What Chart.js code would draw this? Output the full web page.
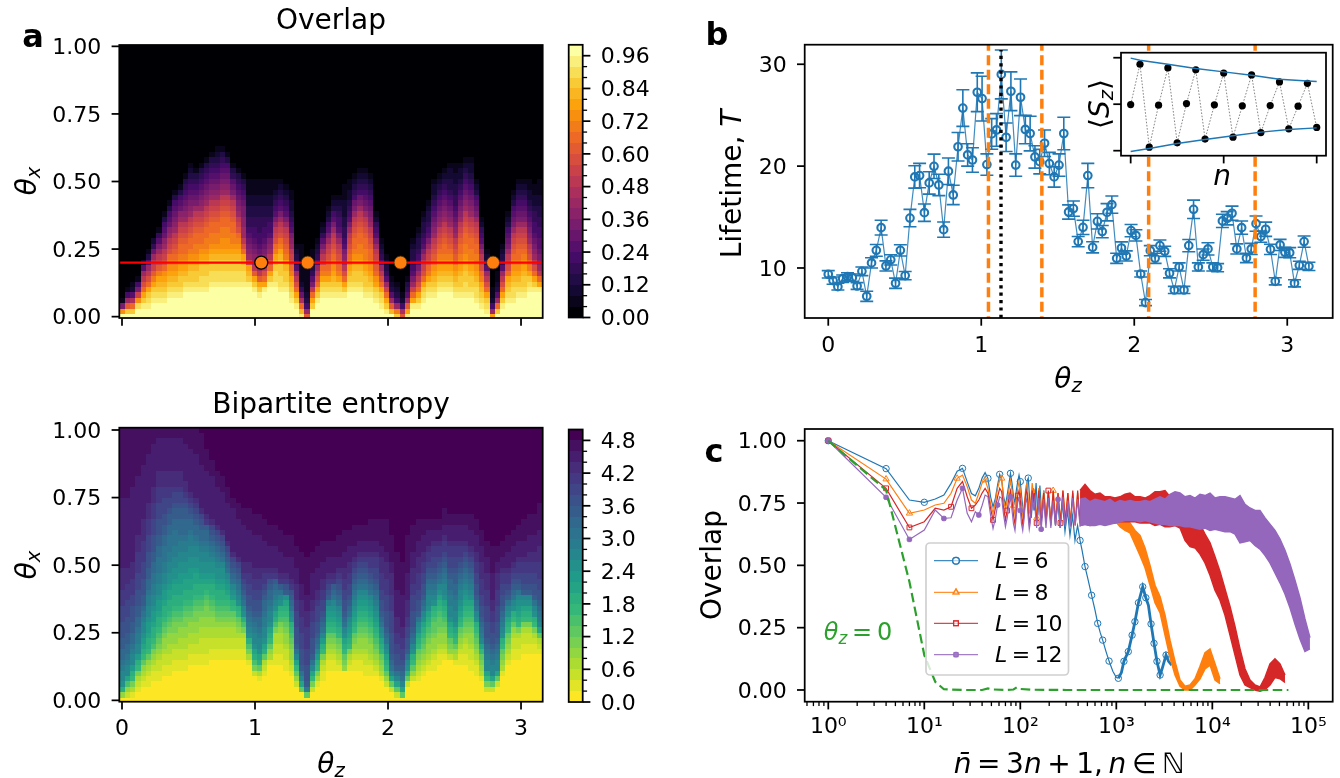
<!DOCTYPE html>
<html><head><meta charset="utf-8">
<script src="https://cdn.jsdelivr.net/npm/chart.js@4"></script>
<style>html,body{margin:0;padding:0;background:#fff;width:1340px;height:778px;overflow:hidden}canvas{position:absolute;left:0;top:0}</style>
</head><body>
<script>
// ---------- DATA ----------
// heat maps: one run-coded string per theta_z column, bottom row first; letters a..y are contour levels 0..24
const overlapColumns=["ysib","yvpkfb","yvqlgcb","y2wsnifb","y2xvtqomkgc","y2xwvtqomkgdb","y3xwvtrpnmkhec","y3xwvutrpnmkigeb","y3xwvutsqonmkjhgfdb","y4xwvutsrqonmkjhgfdb","y4xwvutsrqponmkjihgfdb","y4xwvvutsrqqponmkjhgfdb","y5xwvutsrqqponmkjihgfedb","y5xwvvutsrqqponmkjihgfedcb","y5xwvvutsrrqqponmkihgfedb","y5xwwvvutsrqqponmkjihgfedb","y5xwwvvutsrrqqponmkjihgfedb","y6xwwvvutsrrqqponmkjihgfedb","y6xwwvvutsrrqqponmkjihgfedcb","y6xwwvvutssrrqqponmkjihgfedb","y6xwwvvutssrrqqponmkjihgfdb","y6xwwvvutsrrqqponmkihgedb","y6xwwvvutsrqonmkjihgfedb","y6xwwvutqomkkjjiihgfedb","y6xvutnkjihgfeeddccb3","y5xvtpmkjihgffeeddccb3","y4xvtpmkjihgffe3ddccb3","y5xtqomkjihgffeeddccb3","y6xvtqomkjigffeddccb3","y6xwwvutrqonmkigfedcbb","y5xwwv3utrqonmkigfedcb","y5xwvvutrqponmkigfedcb","y3xwvutrqonmkjigfedccbb","y2xvtqomkgedcb","xuqlhecb7","pkfdcb6","y2vtqmigedcbb","y3xvtqomkgedcb","y4xwvtrqnmkigecb","y4xwvtrqponmkigfdcb","y4xwvutsrqponmkigfdcb","y4xwvtrqponmkigffedcb","y4xvtqomkjigfeeddc3b3","y5xwvutrqponmkigfedccbb","y5xwvvutsrqqponmkihfedcb","y5xwvvutsrrqqponmkihfedcb","y4xwvvutsrrqqponmkihgfedcb","y4xwvutsrqqponmkjihgfedcb","y3xwvtsqponmkigfecb","y2xwvtqomkgedcb","yxvtqnkgedcb","yupkgdcb","vrkfdcb","plfcb","xtpkgedb","y2xtqnkigfeddcb","y2xvtqomkigfeddcb","y3xwvtqonmkigfeddcb","y4xwvtrqonmkigfeddcb","y4xwvutsqponmkjihgfedccb","y5xwvutsrqponmkjihgfedcb","y5xwvutsrqqponmkjihgfedcb","y5xwvutsrqponmkjihgfeddccb","y4xwvutsqponmkjihgfeeddccbb","y4xwvvutsrqqponmkjihgfedccb","y4xwwvvutsrrqqponmkjihgfedcb","y4xwvvutsrrqqponmkjihgfedccb","y3xwwvutsrrqqponmkihgfdcb","y2xwvutrqonmkigfecb","yxwvtqomkgecb","tkfcbb","yvqkgdcbb","y2xvtqomkgedcb","y3xwvutqonmkihgfdcb","y3xwwvutsrqponmkihgfdcb","y4xwvutsrqqponmkihgfedcb","y4xwvvutsrqponmkihgfedcb","y5xwvtrqonmkjihgfedccbb","y5xvtqomkjihgffeedccbb","y5xtqmkjihggffeeddccb3"];
const entropyColumns=["aejmnnopqqrrssstttuuuvvvvw13x13","acehknnopqqrrssstttuuuvvvw13x13","abdfijlnnopqqrrsssttuuuvvvw14x11","a2bcdfijlnnoopqqrrssstttuuuuvvvw11x9","a3bcdegijklmnnopqrrssstttuuuuvvvvw10x7","a3bbcdegijjkllmnnoopqqrrssstttuuuvvvw9x5","a4bbcdefhijjkllmnnooppqqrrssstttuuuvvvw8x3","a4bbccdefghijjkllmnnoopppqqrrssstttuuuvvvw6x2","a5bbccdeefghijjkllmnnoopppqqrrsstttuuvvvw6x2","a5bbccddeefghijjkklmmnnoopppqqrrsttuuvvvw6x2","a6bbccdeeffghijjkklmmnnoopppqqrrsttuvvvw6x2","a6bbccddeefghijjkkllmmnnoopqqqrrsttuvvvw6x2","a6bbccddeeffghijjkklmmnnoopqqqrrstuvvw7x3","a7bbccddeefghijjkkllmmnnoopqqrstuvw8x4","a7bbccddeeffghijjkklmmnnopqqrstuvw8x5","a7bbcccddeefghijjklmmnnopqqrstvw8x6","a7bbcccddeeffghijklmmnnopqqruvw8x4","a8bbccddeefghijjklmmnopqrstvw8x3","a8bbccddefghijjklmmnopqrstvw7x3","a8bbccddefghijjklmmnpqrstvw7x3","a8bbccddefghijklmnpqrstvw7x3","a8bbccddefgijlmnpqrstvw8x2","a8bbccdefgijmnopqrstvw7x3","a8bbccdfhjmnpqrstuvvw7x3","a7bdfhjmnopqrssttuuvvw6x4","a5cfhjkmnnopqrssttuuvvw6x4","a4bdgjkmnnopqqrssttuuvvw6x4","a5bcdgjkmnnoopqqrstuuvw5x4","a7bdegijkmnnopqqrsuvw4x4","a7bbccddfhjkmnopqruvw4x4","a7bbccddefhijmnpruvw4x4","a6bbccdeefghijkmrsuvw3x4","a5bcdeefghijmnpqrsuvw4x4","a3cegiknprssstttuuvvvw3x4","a2gknprssstttuuuvvvw3x6","agorssstttuuuuvvvw3x7","a2cfiknprssstttuuvvw5x4","a3bdfijlnpqrsstttuvvw4x4","a4bbcdfijlnpqrsttuuvvw3x4","a6bbcdefgijklmorstuvw3x3","a6bbcdefgijklmnpqruvw3x3","a6bcdefgijklmnpqrstuvw2x4","a6efgijkmnpqrssttuuvvw3x4","a6bcdfijklmnpqrsttuuvvw3x3","a6bbcdefgijklmnopqrstuvw2x4","a6bbcdeefghijklmnpqrstuvw2x3","a5bbccdeefghijklmnpqrstuvw2x3","a5bbcdeefghijklmnpqrstuuvw2x4","a5bcdefghijklmnopqrsttuuvw2x4","a4bdefgijkmnpqrssttuuuvvvw2x5","a3cegijkmnpqrssstttuuuvvvw2x6","a2cgknpqrssssttttuuuvvvvw2x5","acgknprssttuuvvvw5x7","agknpqrsttuuvvw6x6","a3cgjmnprssttuuvvvw5x7","a4cegijmnpqrssstttuuvvvw3x5","a4bcdefgijkmnprssttuuuvvvw3x4","a5bcdefghijkmnpqrssttuuvvw3x3","a6bcdeefghijkmnnopqrstuuvw3x2","a6bbcdeefgghijmnopqrsttuuvw2x2","a7bbcdeefgghijkmnpqrstuuvw2x2","a8bcdeefghijkmnnopqrstuuvw2x3","a8cefgijkmnnoopqqrsttuuvw3x2","a7bdegijkmnnoopqqrrsttuuvw3x2","a7bbcdefgijklmnnopqrstuuvw3x2","a7bbccdefghijklmnopqrstuvw3x2","a6bbccdeefghijkmnopqrstuvw3x3","a5bbcdefghijmnpqrssttuuvvw3x3","a4bdefgiknopqrssttuuuvvvw3x3","a2cfiknnopqrssstttuuuvvvw3x3","a2cgknnopqrssttuuvvw5x5","a3cgknnopqrssstttuuuvvvw2x3","a5bdefgijmnopqrssttuuvw2x3","a7bcdefgijkmnprstuuvw3x3","a8bbccdegijmnpqrstuvw3x3","a8bbccdfijklmnprstuuvw3x3","a9bbccdfijkmnrsttuuvw3x4","a9bbccdfijkmnrsttuuvvw3x4","a9bbcdfijmnprssttuuvvw3x4","a9bcdgknopqrssttuuuvvvw3x5"];
const markerThetaZ=[1.047,1.396,2.094,2.79];
const lineThetaX=[0.2,0.2];

// panel b
const lifetime=[9.38,8.76,8.17,8.95,9.15,9.05,8.23,9.67,7.22,10.5,11.73,13.96,10.2,10.8,8.5,11.73,9.25,14.9,18.94,19.07,15.43,18.35,19.98,18.15,13.76,19.5,17.17,21.9,25.7,21.1,20.6,27.25,26.63,20.15,23.16,23.55,29.0,22.83,27.35,20.1,26.76,23.6,23.2,20.9,20.44,22.24,20.25,18.94,20.1,23.2,15.5,15.83,12.59,13.99,19.07,12.03,14.58,13.57,15.47,16.22,10.95,11.96,11.18,13.67,13.2,9.41,6.6,11.7,10.95,12.2,11.64,9.48,7.84,10.1,7.84,12.2,15.76,10.1,11.31,11.87,10.1,10.03,14.62,14.88,15.37,11.87,13.96,10.98,11.87,14.35,13.08,13.8,11.83,8.69,12.26,11.54,11.5,8.5,10.26,12.59,10.16];
const lifetimeErr=[.36,.35,.33,.36,.38,.36,.33,.42,.5,.5,.58,.72,.5,.5,.5,.55,.4,.85,1.1,1.2,.85,1.1,1.2,1.05,.75,1.3,.95,1.4,1.8,1.1,1.2,1.9,2.2,1.05,1.5,1.6,2.4,1.4,1.9,1.1,1.8,1.4,1.7,1.1,1.2,1.3,1.1,1,1.1,1.6,.7,.75,.5,.7,1.2,.55,.75,.6,.85,.85,.5,.6,.5,.6,.55,.3,.3,.5,.5,.55,.5,.45,.35,.4,.35,.6,.9,.4,.55,.6,.4,.4,.65,.65,.7,.5,.65,.45,.55,.75,.55,.7,.5,.35,.55,.5,.5,.35,.4,.55,.4];
const dashedThetaZ=[1.047,1.396,2.094,2.79];
const dottedThetaZ=1.129;
// inset
const szValues=[-.007,.86,-.925,-.02,.78,-.83,.014,.74,-.75,-.014,.67,-.71,-.036,.63,-.61,-.03,.48,-.53,-.043,.45,-.5];
const envUpperN=[0,1,4,7,10,13,16,19,20], envUpper=[.99,.946,.86,.767,.695,.624,.538,.5,.487];
const envLowerN=[0,2,5,8,11,14,17,20], envLower=[-1.018,-.953,-.846,-.76,-.68,-.6,-.545,-.51];

// panel c
const nbarEarly=[1,4,7,10,13,16,19,22,25,28,31,34,37,40,43,46,49,52,55,58,61,64,67,70,73,76,79,82,85,88,91,94,97,100,103,106,109,112,115,118,121,124,127,130,133,136];
const L6early=[1,.888,.762,.753,.766,.782,.829,.878,.889,.835,.788,.779,.809,.85,.872,.849,.776,.735,.769,.822,.865,.842,.776,.742,.782,.825,.869,.829,.776,.749,.802,.836,.862,.836,.78,.735,.70,.745,.80,.84,.85,.79,.73,.69,.74,.81];
const L8early=[1,.846,.709,.722,.742,.749,.789,.849,.862,.816,.762,.749,.789,.83,.842,.809,.749,.709,.755,.809,.842,.849,.762,.722,.76,.80,.84,.80,.74,.70,.76,.81,.835,.80,.75,.70,.73,.78,.82,.83,.76,.71,.72,.78,.83,.79];
const L10early=[1,.809,.652,.675,.729,.722,.735,.809,.836,.775,.729,.742,.762,.79,.809,.789,.729,.682,.729,.775,.809,.795,.729,.682,.72,.77,.80,.76,.70,.665,.72,.78,.80,.76,.70,.665,.70,.76,.80,.79,.72,.67,.69,.76,.80,.75];
const L12early=[1,.773,.604,.642,.722,.688,.691,.762,.809,.709,.675,.715,.702,.74,.782,.775,.702,.648,.688,.742,.775,.769,.702,.655,.69,.74,.775,.72,.665,.64,.70,.755,.77,.72,.665,.64,.68,.735,.77,.75,.69,.645,.67,.74,.77,.72];
const zigX=[140,148,156,165,175,185,196,208,220,233,247,262,278,295,313,332,352,373,396,419];
const L8zig=[.80,.69,.81,.68,.80,.70,.79,.68,.80,.69,.79,.68,.80,.69,.79,.68,.79,.67,.79,.67];
const L10zig=[.79,.67,.80,.66,.79,.67,.80,.66,.80,.66,.79,.67,.80,.67,.79,.66,.80,.66,.80,.67];
const L12zig=[.76,.65,.77,.645,.765,.65,.77,.65,.76,.66,.765,.65,.775,.655,.76,.655,.77,.66,.765,.655];
const L6tailX=[140,146,152,160,168,176,186,196,208,220,232,246,259,275,292,310,329,350,371,395,419,440,472,510,553,600,640,680,721,780,840,920,1000,1050,1130,1200,1333,1460,1563,1700,1884,2030,2160,2300,2471,2650,2858,3000,3296,3500,3776];
const L6tailY=[.72,.83,.70,.82,.69,.80,.68,.79,.67,.77,.66,.76,.65,.75,.635,.72,.62,.70,.60,.66,.60,.56,.495,.44,.38,.32,.267,.23,.20,.155,.116,.075,.05,.047,.07,.115,.154,.22,.274,.35,.414,.37,.34,.265,.187,.115,.06,.085,.14,.115,.10];
const L6marks=[1,4,10,25,46,61,79,100,121,419,472,553,640,721,840,1050,1200,1333,1460,1563,1700,1884,2030,2300,2471,2650,2858,3296];
const L8marks=[1,4,7,22,43,64,85,148,220];
const L10marks=[1,4,7,19,31,52,73,94,148,196,262];
const L12marks=[1,4,7,16,25,37,58,79,100,165,247];
const bandX=[419,472,532,600,676,762,859,968,1092,1232,1389,1566,1766,1991,2245,2530,2853,3216,3626,4088,4608,5195,5857,6603,7444,8392,9461,10665,12023,13555,15281,17227,19420,21893,24681,27824,31367,35360,39863,44939,50662,57112,64384,72583,81826,92247,103995];
const L8upper=[.79,.79,.785,.78,.775,.77,.75,.73,.69,.685,.67,.64,.62,.57,.50,.42,.375,.30,.20,.115,.04,.015,.02,.045,.095,.15,.165,.105,.045];
const L8lower=[.665,.67,.67,.675,.68,.685,.69,.68,.655,.64,.63,.585,.54,.49,.42,.35,.31,.22,.13,.06,.015,0,0,.02,.045,.085,.10,.04,.025];
const L10upper=[.80,.825,.80,.785,.79,.775,.775,.77,.775,.785,.79,.775,.775,.77,.78,.795,.795,.80,.775,.77,.75,.685,.675,.675,.665,.625,.59,.535,.475,.405,.335,.255,.165,.085,.04,.02,.012,.05,.105,.125,.105,.06];
const L10lower=[.66,.665,.66,.665,.67,.665,.67,.67,.675,.675,.675,.675,.67,.67,.67,.66,.665,.655,.655,.66,.65,.6,.575,.57,.545,.51,.46,.40,.36,.30,.22,.14,.06,.02,.01,0,-.005,.002,.02,.05,.045,.03];
const L12upper=[.765,.77,.755,.765,.76,.755,.765,.75,.76,.755,.76,.755,.755,.76,.755,.765,.775,.765,.785,.795,.79,.775,.78,.77,.785,.78,.79,.77,.775,.775,.77,.765,.78,.745,.73,.72,.72,.69,.665,.64,.605,.56,.505,.44,.37,.285,.21];
const L12lower=[.66,.665,.66,.66,.665,.66,.665,.67,.675,.68,.68,.68,.675,.68,.675,.67,.665,.665,.66,.66,.66,.655,.655,.65,.645,.65,.64,.645,.64,.635,.635,.625,.59,.595,.60,.58,.565,.54,.51,.47,.43,.385,.33,.265,.205,.155,.165];
const theta0X=[1,4,7,10,13,16,25,40,46,52,70,85,92,100,130,300,1000,5000,20000,62000];
const theta0Y=[1,.802,.434,.14,.033,.003,0,0,.006,.002,0,.002,.011,.004,.001,0,0,0,0,0];

// tick labels
const thetaXTicks=[0,.25,.5,.75,1], thetaXLabels=["0.00","0.25","0.50","0.75","1.00"];
const thetaZTicks=[0,1,2,3], thetaZLabels=["0","1","2","3"];
const cbarATicks=[0,.12,.24,.36,.48,.6,.72,.84,.96], cbarALabels=["0.00","0.12","0.24","0.36","0.48","0.60","0.72","0.84","0.96"];
const cbarBTicks=[0,.6,1.2,1.8,2.4,3,3.6,4.2,4.8], cbarBLabels=["0.0","0.6","1.2","1.8","2.4","3.0","3.6","4.2","4.8"];
const lifeTicks=[10,20,30], lifeLabels=["10","20","30"];
const logTicks=[1,10,100,1000,10000,100000], logLabels=["10⁰","10¹","10²","10³","10⁴","10⁵"];
const overlapTicks=[0,.25,.5,.75,1], overlapLabels=["0.00","0.25","0.50","0.75","1.00"];

// ---------- HELPERS ----------
const FF='"DejaVu Sans"';
Chart.defaults.font.family=FF;
const W=1340,H=778,SPINE=1.75,MAJ=7.7,MIN=4.4,LAB=28,TH='\u2009';
const BLUE='#1f77b4',ORANGE='#ff7f0e',GREEN='#2ca02c',RED='#d62728',PURPLE='#9467bd';
const inferno=["#000004","#1b0c41","#4a0c6b","#781c6d","#a52c60","#cf4446","#ed6925","#fb9b06","#f7d13d","#fcffa4"];
const viridis=["#440154","#482878","#3e4989","#31688e","#26828e","#1f9e89","#35b779","#6ece58","#b5de2b","#fde725"];
function cmap(list,t){const p=t*(list.length-1),i=Math.min(Math.floor(p),list.length-2),f=p-i;
  const h=s=>[1,3,5].map(k=>parseInt(s.substr(k,2),16));const a=h(list[i]),b=h(list[i+1]);
  return `rgb(${a.map((v,k)=>Math.round(v+(b[k]-v)*f)).join(',')})`;}
const infernoLevel=k=>cmap(inferno,k/24), viridisLevel=k=>cmap(viridis,1-k/24);
function decode(s,fillCh){const o=s.replace(/([a-y])(\d+)/g,(m,c,n)=>c.repeat(+n));return o.padEnd(51,fillCh);}
function cells(cols,fillCh){const out=[];cols.forEach((s,c)=>{const d=decode(s,fillCh);
  for(let r=0;r<51;r++)out.push({x:c*Math.PI/79,y:r*0.02,level:d.charCodeAt(r)-97});});return out;}
function rich(ctx,runs,x,y,size,opt={}){ctx.save();ctx.fillStyle=opt.color||'#000';ctx.textBaseline='alphabetic';ctx.textAlign='left';
  const fnt=r=>`${r.b?'bold ':''}${r.i?'italic ':''}${r.s?size*.7:size}px ${FF}`;
  let w=0;runs.forEach(r=>{ctx.font=fnt(r);w+=ctx.measureText(r.t).width;});
  ctx.translate(x,y);if(opt.rot)ctx.rotate(opt.rot);
  let cx=opt.left?0:-w/2;runs.forEach(r=>{ctx.font=fnt(r);ctx.fillText(r.t,cx,r.s?size*.15:0);cx+=ctx.measureText(r.t).width;});ctx.restore();}
const T=(t,i,s,b)=>({t,i,s,b});
function axis(pos,min,max,vals,labels,pad,log){const horiz=pos==='bottom'||pos==='top';
  return {type:log?'logarithmic':'linear',position:pos,min,max,offset:false,grid:{display:false,drawTicks:false},border:{display:false},
    ticks:{display:!!labels,autoSkip:false,maxRotation:0,minRotation:0,padding:pad||0,labelOffset:horiz?0:2,color:'#000',font:{size:22,family:FF},callback:(v,i)=>labels?labels[i]:''},
    afterBuildTicks:s=>{s.ticks=vals.map(v=>({value:v}));},
    afterFit:s=>{if(horiz)s.height=0;else s.width=0;s.paddingLeft=s.paddingRight=s.paddingTop=s.paddingBottom=0;s._computeLabelArea=()=>undefined;}};}
function framePlugin(xt,yt,ySide,extra){return {id:'frame',afterDraw(ch){const c=ch.ctx,a=ch.chartArea,sx=ch.scales.x,sy=ch.scales.y;
  c.save();c.strokeStyle='#000';c.lineWidth=SPINE;c.strokeRect(a.left,a.top,a.right-a.left,a.bottom-a.top);
  xt.forEach(([v,l])=>{const p=sx.getPixelForValue(v);if(p<a.left-.5||p>a.right+.5)return;c.lineWidth=l===MAJ?SPINE:1.3;c.beginPath();c.moveTo(p,a.bottom);c.lineTo(p,a.bottom+l);c.stroke();});
  yt.forEach(([v,l])=>{const p=sy.getPixelForValue(v);c.lineWidth=l===MAJ?SPINE:1.3;c.beginPath();
    if(ySide==='right'){c.moveTo(a.right,p);c.lineTo(a.right+l,p);}else{c.moveTo(a.left,p);c.lineTo(a.left-l,p);}c.stroke();});
  c.restore();if(extra)extra(ch);}};}
function heatPlugin(colorFn,dx,dy){return {id:'heat',beforeDatasetsDraw(ch){const c=ch.ctx,a=ch.chartArea,sx=ch.scales.x,sy=ch.scales.y;
  c.save();c.beginPath();c.rect(a.left,a.top,a.right-a.left,a.bottom-a.top);c.clip();
  const data=ch.data.datasets[ch.data.datasets.length-1].data;
  data.forEach(d=>{const x0=Math.round(sx.getPixelForValue(d.x-dx/2)),x1=Math.round(sx.getPixelForValue(d.x+dx/2)),
    y0=Math.round(sy.getPixelForValue(d.y+dy/2)),y1=Math.round(sy.getPixelForValue(d.y-dy/2));
    c.fillStyle=colorFn(d.level);c.fillRect(x0,y0,x1-x0,y1-y0);});c.restore();}};}
function mk(area,datasets,scales,plugins){const cv=document.createElement('canvas');cv.width=W;cv.height=H;document.body.appendChild(cv);
  return new Chart(cv,{type:'scatter',data:{datasets},plugins,options:{responsive:false,animation:false,devicePixelRatio:1,events:[],
    layout:{padding:{left:area.l,top:area.t,right:W-area.r,bottom:H-area.b}},scales,
    plugins:{legend:{display:false},tooltip:{enabled:false},title:{display:false}}}});}
const linePts=(xs,ys)=>ys.map((y,i)=>({x:xs[i],y}));
const tickList=(vals,len)=>vals.map(v=>[v,len]);

// ---------- PANEL a ----------  (Chart.js paints the first dataset last, so the top-most marks come first)
const A1={l:119.3,r:542.7,t:45,b:318},A2={l:119.3,r:542.7,t:427.7,b:701.7};
const xL=-0.0203,xR=3.163;
const xT=tickList(thetaZTicks,MAJ);
mk(A1,[{data:markerThetaZ.map(x=>({x,y:.2})),pointRadius:6.5,backgroundColor:ORANGE,
    pointBorderColor:['#000','#3a2a10','#3a2a10','#3a2a10'],pointBorderWidth:[1.3,.8,.8,.8]},
  {data:linePts([xL,xR],lineThetaX),showLine:true,borderColor:'#ff0000',borderWidth:2.2,pointRadius:0},
  {data:cells(overlapColumns,'a'),pointRadius:0}],
  {x:axis('bottom',xL,xR,thetaZTicks,null),y:axis('left',-.005,1.005,thetaXTicks,thetaXLabels,18)},
  [heatPlugin(infernoLevel,Math.PI/79,.02),framePlugin(xT,tickList(thetaXTicks,MAJ),'left',ch=>{const c=ch.ctx;
    rich(c,[T('Overlap')],331,29,28);rich(c,[T('θ',1),T('x',1,1)],36,181,LAB,{rot:-Math.PI/2});rich(c,[T('a',0,0,1)],33,47,32);})]);
mk(A2,[{data:cells(entropyColumns,'y'),pointRadius:0}],
  {x:axis('bottom',xL,xR,thetaZTicks,thetaZLabels,14),y:axis('left',-.005,1.0085,thetaXTicks,thetaXLabels,18)},
  [heatPlugin(viridisLevel,Math.PI/79,.02),framePlugin(xT,tickList(thetaXTicks,MAJ),'left',ch=>{const c=ch.ctx;
    rich(c,[T('Bipartite entropy')],331,413,28);rich(c,[T('θ',1),T('x',1,1)],36,565,LAB,{rot:-Math.PI/2});rich(c,[T('θ',1),T('z',1,1)],331,773,LAB);})]);
// colour bars
const barLevels=[...Array(25).keys()];
const CA={l:568.7,r:582.7,t:44.8,b:317.5},CB={l:568.7,r:582.7,t:429.5,b:702};
mk(CA,[{data:barLevels.map(k=>({x:.5,y:(k+.5)*.04,level:k})),pointRadius:0}],
  {x:axis('bottom',0,1,[],null),y:axis('right',0,1,cbarATicks,cbarALabels,18)},
  [heatPlugin(infernoLevel,1,.04),framePlugin([],[...barLevels.filter(k=>k%3).map(k=>[k*.04,MIN]),...tickList(cbarATicks,MAJ)],'right')]);
mk(CB,[{data:barLevels.map(k=>({x:.5,y:(k+.5)*.2,level:k})),pointRadius:0}],
  {x:axis('bottom',0,1,[],null),y:axis('right',0,5,cbarBTicks,cbarBLabels,18)},
  [heatPlugin(viridisLevel,1,.2),framePlugin([],[...barLevels.filter(k=>k%3).map(k=>[k*.2,MIN]),...tickList(cbarBTicks,MAJ)],'right')]);

// ---------- PANEL b ----------
const AB={l:804.7,r:1332.7,t:44.7,b:318};
const thetaGrid=lifetime.map((_,i)=>i*Math.PI/100);
const errPlugin={id:'err',beforeDatasetsDraw(ch){const c=ch.ctx,sx=ch.scales.x,sy=ch.scales.y;c.save();c.strokeStyle=BLUE;c.lineWidth=1.6;
  lifetime.forEach((v,i)=>{const x=sx.getPixelForValue(thetaGrid[i]),y0=sy.getPixelForValue(v-lifetimeErr[i]),y1=sy.getPixelForValue(v+lifetimeErr[i]);
    c.beginPath();c.moveTo(x,y0);c.lineTo(x,y1);c.moveTo(x-6.5,y0);c.lineTo(x+6.5,y0);c.moveTo(x-6.5,y1);c.lineTo(x+6.5,y1);c.stroke();});c.restore();}};
mk(AB,[{data:[{x:dottedThetaZ,y:5.09},{x:dottedThetaZ,y:31.4}],showLine:true,borderColor:'#000',borderWidth:3.4,borderDash:[3.2,4.2],pointRadius:0},
  ...dashedThetaZ.map(x=>({data:[{x,y:0},{x,y:40}],showLine:true,borderColor:ORANGE,borderWidth:3.5,borderDash:[10,4.5],pointRadius:0})),
  {data:linePts(thetaGrid,lifetime),showLine:true,borderColor:'rgba(31,119,180,.85)',borderWidth:1.2,pointRadius:3.8,pointBorderColor:BLUE,pointBorderWidth:2.1,pointBackgroundColor:'rgba(255,255,255,0)'}],
  {x:axis('bottom',-.154,3.297,thetaZTicks,thetaZLabels,15),y:axis('left',5.09,31.92,lifeTicks,lifeLabels,18)},
  [errPlugin,framePlugin(xT,tickList(lifeTicks,MAJ),'left',ch=>{const c=ch.ctx;
    rich(c,[T('Lifetime, '),T('T',1)],741,184,LAB,{rot:-Math.PI/2});rich(c,[T('θ',1),T('z',1,1)],1068,388,LAB);rich(c,[T('b',0,0,1)],717,45,32);})]);
// inset: white background so the dashed lines pass behind it
const AI={l:1121,r:1326,t:52.7,b:155.7};
const insetN=szValues.map((_,i)=>i);
const whitePlugin={id:'white',beforeDatasetsDraw(ch){const a=ch.chartArea,c=ch.ctx;c.save();c.fillStyle='#fff';c.fillRect(a.left,a.top,a.right-a.left,a.bottom-a.top);c.restore();}};
mk(AI,[{data:linePts(envUpperN,envUpper),showLine:true,borderColor:BLUE,borderWidth:1.4,pointRadius:0},
  {data:linePts(envLowerN,envLower),showLine:true,borderColor:BLUE,borderWidth:1.4,pointRadius:0},
  {data:linePts(insetN,szValues),showLine:true,borderColor:'#777',borderWidth:.9,borderDash:[1.6,1.6],pointRadius:3.6,pointBackgroundColor:'#000',pointBorderColor:'#000',pointBorderWidth:0}],
  {x:axis('bottom',-1.04,21,[],null),y:axis('left',-1.108,1.108,[],null)},
  [whitePlugin,framePlugin(tickList([0,10,20],MAJ),tickList([-1,0,1],MAJ),'left',ch=>{const c=ch.ctx;
    rich(c,[T('n',1)],1222,185,LAB);rich(c,[T('⟨'),T('S',1),T('z',1,1),T('⟩')],1109,104,LAB,{rot:-Math.PI/2});})]);

// ---------- PANEL c ----------
const AC={l:804.7,r:1332.7,t:429,b:701.7};
const bandSets=(up,lo,col)=>[
  {data:linePts(bandX,lo),showLine:true,borderColor:col,borderWidth:1.5,pointRadius:0},
  {data:linePts(bandX,up),showLine:true,borderColor:col,borderWidth:1.5,pointRadius:0,fill:'-1',backgroundColor:col}];
const marked=(xs,ys,marks,style,col,r,bg)=>({data:linePts(xs,ys),showLine:true,borderColor:col,borderWidth:1.2,pointStyle:style,
  pointRadius:xs.map(x=>marks.includes(x)?r:0),pointBorderColor:col,pointBorderWidth:1,pointBackgroundColor:bg||'rgba(255,255,255,0)'});
const L6X=[...nbarEarly,...L6tailX],L6Y=[...L6early,...L6tailY];
const L6set=marked(L6X,L6Y,L6marks,'circle',BLUE,3.2);
L6set.segment={borderWidth:c=>c.p0.parsed.x>1000?2.8:1.2};
const legendRows=[['6',BLUE,'circle'],['8',ORANGE,'triangle'],['10',RED,'rect'],['12',PURPLE,'rectRounded']];
const legendYs=[560.7,592.3,623.3,654.7];
mk(AC,[{data:linePts(theta0X,theta0Y),showLine:true,borderColor:GREEN,borderWidth:2.2,borderDash:[9.5,4.5],pointRadius:0},
  marked([...nbarEarly,...zigX],[...L12early,...L12zig],L12marks,'rectRounded',PURPLE,2.6,PURPLE),...bandSets(L12upper,L12lower,PURPLE),
  marked([...nbarEarly,...zigX],[...L10early,...L10zig],L10marks,'rect',RED,3.4),...bandSets(L10upper,L10lower,RED),
  marked([...nbarEarly,...zigX],[...L8early,...L8zig],L8marks,'triangle',ORANGE,3.6),...bandSets(L8upper,L8lower,ORANGE),
  L6set],
  {x:axis('bottom',.568,179400,logTicks,logLabels,12,true),y:axis('left',-.047,1.047,overlapTicks,overlapLabels,18)},
  [framePlugin([...[.6,.7,.8,.9,2,3,4,5,6,7,8,9,20,30,40,50,60,70,80,90,200,300,400,500,600,700,800,900,2000,3000,4000,5000,6000,7000,8000,9000,20000,30000,40000,50000,60000,70000,80000,90000].map(v=>[v,MIN]),...tickList(logTicks,MAJ)],
    tickList(overlapTicks,MAJ),'left',ch=>{const c=ch.ctx;
    c.save();c.fillStyle='rgba(255,255,255,.8)';c.strokeStyle='#d0d0d0';c.lineWidth=1.7;c.beginPath();c.roundRect(926,543,142.5,132,4);c.fill();c.stroke();
    legendRows.forEach(([lab,col,st],i)=>{const y=legendYs[i];c.strokeStyle=col;c.globalAlpha=.85;c.lineWidth=1.2;c.beginPath();c.moveTo(934,y);c.lineTo(978,y);c.stroke();
      Chart.helpers.drawPoint(c,{pointStyle:st,radius:i===3?2.6:3.4,borderWidth:1,rotation:0},956,y);
      if(i===3){c.fillStyle=col;c.fillRect(953.5,y-2.5,5,5);}else{c.stroke();}
      c.globalAlpha=1;rich(c,[T('L',1),T(TH+'='+TH+lab)],995,y+7.5,22,{left:true});});c.restore();
    rich(c,[T('θ',1,0),T('z',1,1),T(TH+'='+TH+'0')],858,640,24,{color:GREEN});
    rich(c,[T('Overlap')],721,565,LAB,{rot:-Math.PI/2});
    rich(c,[T('n̄',1),T(TH+'='+TH+'3'),T('n',1),T(TH+'+'+TH+'1,'+TH),T('n',1),T(TH+'∈'+TH+'ℕ')],1069,773,LAB);
    rich(c,[T('c',0,0,1)],714,462,32);})]);
</script>
</body></html>
